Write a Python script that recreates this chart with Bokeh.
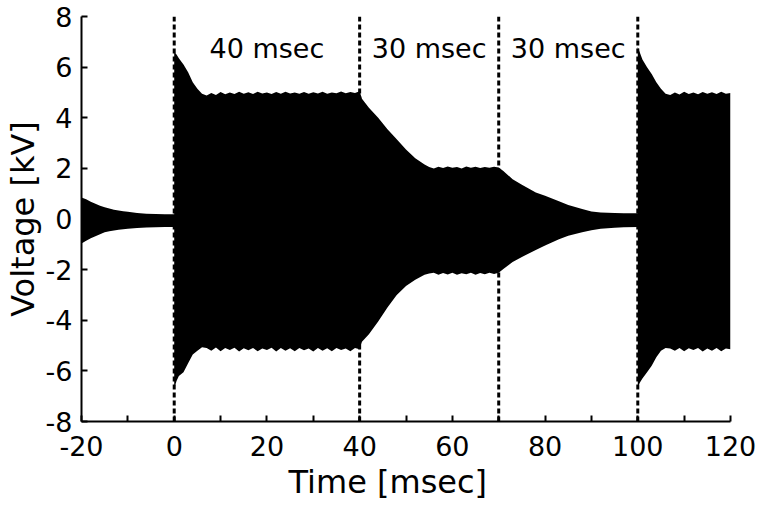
from bokeh.plotting import figure
from bokeh.models import Range1d, FixedTicker, Title, CustomJSTickFormatter
from bokeh.core.properties import value
from bokeh.embed import file_html
from bokeh.resources import INLINE

# Envelope of the high-voltage waveform (kV) per drive phase, time in msec.
# Before switch-on: residual ringing
t_pre = [-20, -19, -18, -17, -16, -15, -14, -13, -12, -11, -10, -8, -6, -4, -2, 0]
up_pre = [0.85, 0.78, 0.68, 0.6, 0.52, 0.46, 0.41, 0.37, 0.34, 0.31, 0.29, 0.24, 0.21, 0.2, 0.19, 0.19]
lo_pre = [-0.97, -0.86, -0.76, -0.68, -0.6, -0.52, -0.48, -0.45, -0.42, -0.4, -0.39, -0.36, -0.34, -0.33, -0.32, -0.32]

# Full drive, 0-40 msec
t_on1 = [0, 0.5, 1, 2, 3, 4, 5, 6,
         7, 8, 9, 10, 11, 12, 13, 14, 15, 16,
         17, 18, 19, 20, 21, 22, 23, 24, 25, 26,
         27, 28, 29, 30, 31, 32, 33, 34, 35, 36,
         37, 38, 39, 40]
up_on1 = [6.6, 6.5, 6.35, 6.1, 5.8, 5.4, 5.15, 4.95,
          4.88, 4.98, 4.9, 5.02, 4.93, 5.0, 4.94, 5.03, 4.95, 5.01,
          4.94, 5.03, 4.96, 5.0, 4.94, 5.02, 4.95, 5.03, 4.96, 5.0,
          4.95, 5.02, 4.95, 5.01, 4.96, 5.03, 4.95, 5.0, 4.97, 5.04,
          4.97, 5.02, 4.98, 5.05]
lo_on1 = [-6.7, -6.4, -6.2, -6.05, -5.7, -5.35, -5.2, -5.07,
          -5.1, -5.2, -5.08, -5.22, -5.1, -5.18, -5.09, -5.23, -5.11, -5.19,
          -5.1, -5.22, -5.12, -5.18, -5.09, -5.23, -5.1, -5.2, -5.11, -5.22,
          -5.1, -5.19, -5.12, -5.23, -5.1, -5.2, -5.11, -5.22, -5.1, -5.18,
          -5.12, -5.22, -5.1, -5.15]

# Ramp down to 2 kV, 40-70 msec
t_ramp1 = [40, 40.5, 42, 44, 46, 48, 50, 52, 54, 55,
           56, 57, 58, 59, 60, 61, 62, 63, 64, 65,
           66, 67, 68, 69, 70]
up_ramp1 = [5.05, 4.75, 4.4, 4.0, 3.55, 3.15, 2.75, 2.4, 2.15, 2.05,
            2.0, 2.06, 2.01, 2.07, 2.02, 2.05, 2.0, 2.07, 2.02, 2.06,
            2.01, 2.05, 2.02, 2.06, 2.03]
lo_ramp1 = [-5.15, -4.85, -4.55, -4.05, -3.5, -3.0, -2.65, -2.4, -2.2, -2.15,
            -2.12, -2.2, -2.13, -2.19, -2.12, -2.2, -2.14, -2.18, -2.12, -2.2,
            -2.13, -2.18, -2.12, -2.17, -2.12]

# Decay to residual level, 70-100 msec
t_ramp2 = [70, 71, 73, 75, 78, 80, 83, 85, 88, 90, 92, 95, 97, 100]
up_ramp2 = [2.03, 1.9, 1.57, 1.35, 1.05, 0.92, 0.7, 0.55, 0.4, 0.3, 0.26, 0.24, 0.23, 0.23]
lo_ramp2 = [-2.12, -1.98, -1.7, -1.5, -1.22, -1.05, -0.8, -0.66, -0.52, -0.44, -0.39, -0.35, -0.33, -0.32]

# Full drive again, 100-120 msec
t_on2 = [100, 100.5, 101, 102, 103, 104, 105, 106,
         107, 108, 109, 110, 111, 112, 113, 114, 115, 116, 117, 118, 119, 120]
up_on2 = [6.8, 6.55, 6.3, 6.0, 5.73, 5.4, 5.15, 4.95,
          4.9, 5.0, 4.92, 5.03, 4.94, 5.0, 4.93, 5.02, 4.95, 5.01, 4.94, 5.03, 4.95, 4.98]
lo_on2 = [-6.65, -6.45, -6.3, -6.05, -5.8, -5.46, -5.2, -5.1,
          -5.12, -5.2, -5.1, -5.22, -5.11, -5.18, -5.1, -5.23, -5.12, -5.2, -5.1, -5.22, -5.12, -5.15]

# Phase boundaries and their durations
event_times = [0, 40, 70, 100]
phase_centers = [20, 55, 85]
phase_labels = ["40 msec", "30 msec", "30 msec"]

x_ticks = [-20, 0, 20, 40, 60, 80, 100, 120]
x_minor = [-10, 10, 30, 50, 70, 90, 110]
y_ticks = [-8, -6, -4, -2, 0, 2, 4, 6, 8]

t = t_pre + t_on1 + t_ramp1 + t_ramp2 + t_on2
upper = up_pre + up_on1 + up_ramp1 + up_ramp2 + up_on2
lower = lo_pre + lo_on1 + lo_ramp1 + lo_ramp2 + lo_on2

FONT = "DejaVu Sans"

p = figure(width=762, height=507, output_backend="svg", toolbar_location=None,
           x_range=Range1d(-20, 120), y_range=Range1d(-8, 8),
           min_border_left=81, min_border_right=32, min_border_top=16, min_border_bottom=86)
p.outline_line_color = None
p.grid.visible = False
p.background_fill_color = "white"

# waveform envelope
p.varea(x=t, y1=lower, y2=upper, fill_color="black")

# phase boundaries
p.segment(x0=event_times, y0=[y_ticks[0]] * len(event_times),
          x1=event_times, y1=[y_ticks[-1]] * len(event_times),
          line_color="black", line_width=3, line_dash="5 3")

p.text(x=phase_centers, y=[6.75] * len(phase_centers), text=phase_labels,
       text_font=value(FONT), text_font_size="27px", text_color="black",
       text_align="center", text_baseline="alphabetic")

# plain hyphen-minus tick labels
plain_labels = CustomJSTickFormatter(code="return tick.toString();")

for ax in (p.xaxis[0], p.yaxis[0]):
    ax.axis_line_width = 2
    ax.axis_line_color = "black"
    ax.major_tick_line_width = 2
    ax.major_tick_in = 6
    ax.major_tick_out = 0
    ax.minor_tick_line_width = 2
    ax.minor_tick_in = 6
    ax.minor_tick_out = 0
    ax.major_label_text_font = FONT
    ax.major_label_text_font_size = "27px"
    ax.major_label_text_color = "black"
    ax.formatter = plain_labels

p.xaxis[0].ticker = FixedTicker(ticks=x_ticks, minor_ticks=x_minor)
p.xaxis[0].major_label_standoff = 14

p.yaxis[0].ticker = FixedTicker(ticks=y_ticks)
p.yaxis[0].major_label_standoff = 9
p.yaxis[0].axis_label = "Voltage [kV]"
p.yaxis[0].axis_label_text_font = FONT
p.yaxis[0].axis_label_text_font_size = "32px"
p.yaxis[0].axis_label_text_font_style = "normal"
p.yaxis[0].axis_label_text_color = "black"
p.yaxis[0].axis_label_standoff = 1

p.add_layout(Title(text="Time [msec]", align="left", offset=207, standoff=5,
                   text_font=FONT, text_font_size="32px", text_font_style="normal",
                   text_color="black"), "below")

open("out.html", "w").write(file_html(p, INLINE))
